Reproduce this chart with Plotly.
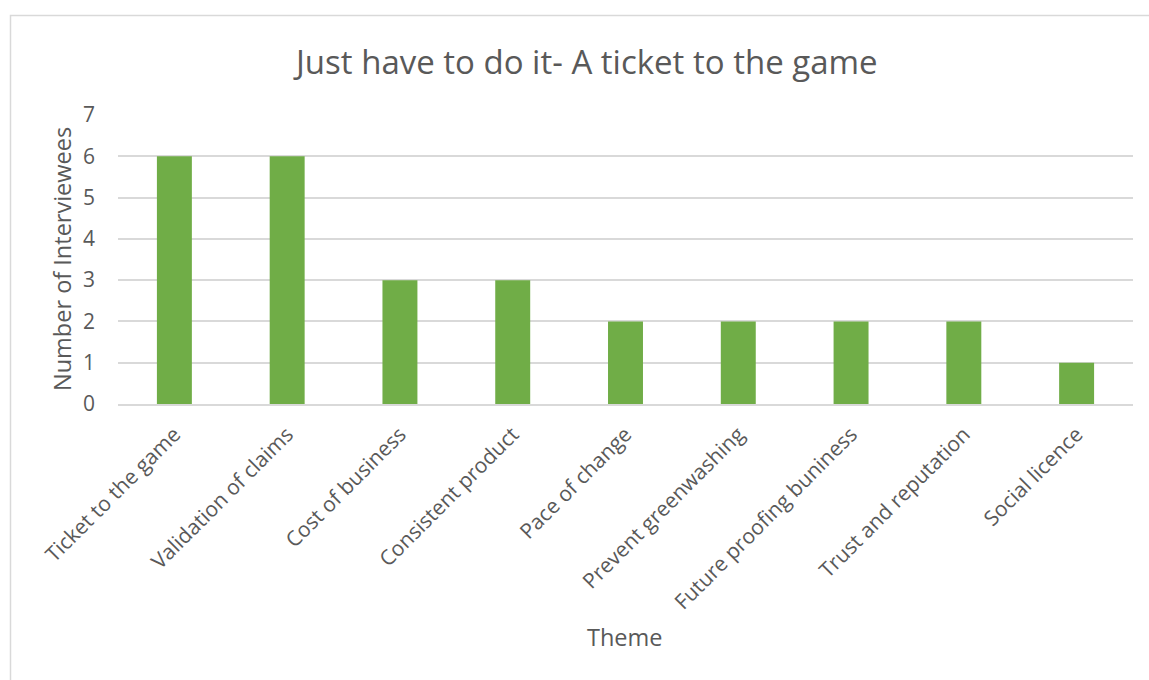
import plotly.graph_objects as go

themes = [
    "Ticket to the game",
    "Validation of claims",
    "Cost of business",
    "Consistent product",
    "Pace of change",
    "Prevent greenwashing",
    "Future proofing buniness",
    "Trust and reputation",
    "Social licence",
]
interviewees = [6, 6, 3, 3, 2, 2, 2, 2, 1]

W, H = 1149, 680
FONT = "Open Sans"
TEXT = "#595959"
GRID = "#D9D9D9"

fig = go.Figure(
    go.Bar(
        x=themes,
        y=interviewees,
        marker=dict(color="#70AD47", line=dict(width=0)),
        width=0.31,
    )
)

plot_l, plot_r = 118, 1133
plot_t, plot_b = 115, 404

fig.update_layout(
    width=W,
    height=H,
    margin=dict(l=0, r=0, t=0, b=0),
    paper_bgcolor="white",
    plot_bgcolor="white",
    showlegend=False,
    bargap=0.69,
    font=dict(family=FONT, color=TEXT),
    xaxis=dict(
        domain=[plot_l / W, plot_r / W],
        tickangle=-45,
        tickfont=dict(size=21, color=TEXT, family=FONT),
        showgrid=False,
        showline=True,
        linecolor=GRID,
        linewidth=1.5,
        ticks="",
        ticklabelstandoff=8,
        automargin=False,
    ),
    yaxis=dict(
        domain=[1 - plot_b / H, 1 - plot_t / H],
        range=[0, 7],
        dtick=1,
        tickfont=dict(size=21, color=TEXT, family=FONT),
        showgrid=True,
        gridcolor=GRID,
        gridwidth=1.5,
        zeroline=False,
        showline=False,
        ticks="",
        ticklabelstandoff=22,
        automargin=False,
    ),
    shapes=[
        dict(
            type="rect",
            xref="paper",
            yref="paper",
            x0=10.5 / W,
            x1=1.01,
            y0=-0.01,
            y1=1 - 15.5 / H,
            line=dict(color=GRID, width=1.5),
            fillcolor="rgba(0,0,0,0)",
            layer="below",
        )
    ],
    annotations=[
        dict(
            text="Just have to do it- A ticket to the game",
            xref="paper",
            yref="paper",
            x=585 / W,
            y=1 - 61 / H,
            showarrow=False,
            font=dict(size=33, color=TEXT, family=FONT),
            xanchor="center",
            yanchor="middle",
        ),
        dict(
            text="Number of Interviewees",
            xref="paper",
            yref="paper",
            x=62 / W,
            y=1 - 259 / H,
            showarrow=False,
            textangle=-90,
            font=dict(size=23.5, color=TEXT, family=FONT),
            xanchor="center",
            yanchor="middle",
        ),
        dict(
            text="Theme",
            xref="paper",
            yref="paper",
            x=625 / W,
            y=1 - 637 / H,
            showarrow=False,
            font=dict(size=23.5, color=TEXT, family=FONT),
            xanchor="center",
            yanchor="middle",
        ),
    ],
)

fig.write_html("out.html")
